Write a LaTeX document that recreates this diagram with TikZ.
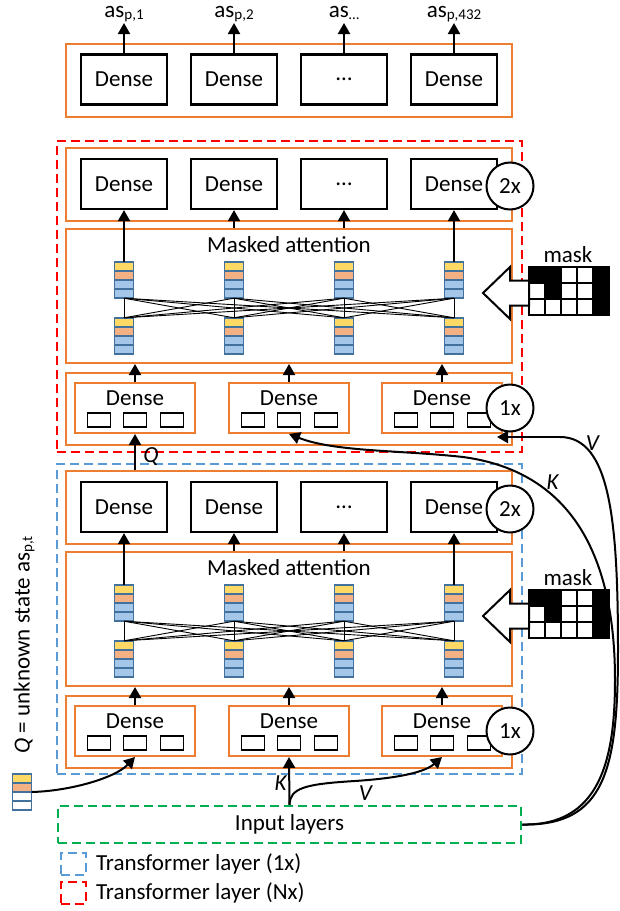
\documentclass[tikz,border=0pt]{standalone}
\usepackage{fontspec}
\setmainfont{Carlito}
\usetikzlibrary{arrows.meta}
\definecolor{orng}{HTML}{ED7D31}
\definecolor{rdash}{HTML}{FF0000}
\definecolor{bdash}{HTML}{5B9BD5}
\definecolor{gdash}{HTML}{00B050}
\definecolor{vborder}{HTML}{41719C}
\definecolor{vyel}{HTML}{FFD966}
\definecolor{vsal}{HTML}{F4B183}
\definecolor{vblu}{HTML}{A4C6E8}
\newcommand\lowsub[1]{\raisebox{-2.5pt}{\fontsize{15}{15}\selectfont #1}}
\newcommand\mkvec[4]{% name, x, ytop, colours
  \foreach \cc [count=\kk from 0] in {#4}{
    \node[vcell, fill=\cc] at (#2, #3+4.5+9*\kk) {};
  }
  \node[inner sep=0pt, minimum width=19pt, minimum height=36pt] (#1) at (#2,#3+18) {};
}
\begin{document}
\begin{tikzpicture}[x=1pt,y=-1pt,
  fnt/.style={font=\fontsize{23}{27}\selectfont},
  dbox/.style={draw, line width=2.2pt, fill=white, minimum width=86pt, minimum height=50pt, inner sep=0pt, fnt},
  ebox/.style={draw=orng, line width=2pt, fill=white, minimum width=120pt, minimum height=50pt, inner sep=0pt},
  obox/.style={draw=orng, line width=2pt, inner sep=0pt, minimum width=446pt},
  srect/.style={draw, line width=1.4pt, fill=white, minimum width=23pt, minimum height=14pt, inner sep=0pt},
  vcell/.style={draw=vborder, line width=1.4pt, minimum width=19pt, minimum height=9pt, inner sep=0pt},
  mcell/.style={draw, line width=1.5pt, minimum size=16pt, inner sep=0pt},
  circ/.style={circle, draw, line width=2pt, fill=white, minimum size=47pt, inner sep=0pt, fnt},
  arr/.style={line width=2pt, -{Triangle[length=11pt,width=12pt]}},
  attl/.style={line width=0.9pt},
  dsh/.style={line width=2.5pt, dash pattern=on 9pt off 5pt},
  lbl/.style={fnt, inner sep=0pt}
]
\useasboundingbox (0,0) rectangle (619,911);

% dashed layer frames
\node[draw=rdash, dsh, minimum width=465pt, minimum height=311pt, inner sep=0pt] (rlayer) at (289.5,296.5) {};
\node[draw=bdash, dsh, minimum width=465pt, minimum height=310pt, inner sep=0pt] (blayer) at (289.5,619) {};
\node[draw=gdash, dsh, minimum width=463pt, minimum height=37pt, inner sep=0pt, fnt] (inp) at (289.5,824.5) {Input layers};

% output block
\node[obox, minimum height=73pt] (outb) at (289,80.5) {};
\foreach \i/\x/\t in {1/124/Dense,2/234/Dense,3/344/\ldots,4/454/Dense}{
  \node[dbox] (o\i) at (\x,79.5) {\t};
  \coordinate (t\i) at (\x,23);
  \draw[arr] (o\i.north) -- (t\i);
}
\node[fnt, anchor=base, inner sep=0pt] (lab1) at (124,17) {as\lowsub{p,1}};
\node[fnt, anchor=base, inner sep=0pt] (lab2) at (234,17) {as\lowsub{p,2}};
\node[fnt, anchor=base, inner sep=0pt] (lab3) at (344,17) {as\lowsub{\ldots}};
\node[fnt, anchor=base, inner sep=0pt] (lab4) at (454,17) {as\lowsub{p,432}};

% two transformer layers
\foreach \oy/\p in {0/r,323/b}{
  \node[obox, minimum height=73pt] (\p top) at (289,184.5+\oy) {};
  \node[obox, minimum height=134pt] (\p att) at (289,296+\oy) {};
  \node[obox, minimum height=72pt] (\p low) at (289,409+\oy) {};
  \foreach \i/\x/\t in {1/124/Dense,2/234/Dense,3/344/\ldots,4/454/Dense}{
    \node[dbox] (\p d\i) at (\x,184+\oy) {\t};
  }
  \node[fnt, anchor=base, inner sep=0pt] (\p attxt) at (289,252+\oy) {Masked attention};
  \foreach \i/\x in {1/124,2/234,3/344,4/454}{
    \mkvec{\p vt\i}{\x}{262+\oy}{vyel,vsal,vblu,vblu}
    \mkvec{\p vb\i}{\x}{318+\oy}{vyel,vsal,vblu,vblu}
  }
  \foreach \i in {1,...,4}{
    \foreach \j in {1,...,4}{
      \draw[attl] (\p vt\i.south) -- (\p vb\j.north);
    }
  }
  \draw[arr] (\p vt1.north) -- (\p d1.south);
  \draw[arr] (\p vt4.north) -- (\p d4.south);
  \draw[arr] (\p d2.south |- \p att.north) -- (\p d2.south);
  \draw[arr] (\p d3.south |- \p att.north) -- (\p d3.south);
  \foreach \i/\x in {1/135,2/289,3/442}{
    \node[ebox] (\p e\i) at (\x,408+\oy) {};
    \node[fnt, anchor=base, inner sep=0pt] (\p et\i) at (\x,405+\oy) {Dense};
    \node[srect] (\p s\i a) at (\x-36,420+\oy) {};
    \node[srect] (\p s\i b) at (\x,420+\oy) {};
    \node[srect] (\p s\i c) at (\x+37,420+\oy) {};
    \draw[arr] (\p e\i.north) -- (\p e\i.north |- \p att.south);
  }
  % mask
  \foreach \r/\row in {0/{black,black,white,white,black},1/{white,black,white,white,black},2/{white,white,white,white,black}}{
    \foreach \v [count=\c from 0] in \row {
      \node[mcell, fill=\v] (\p m\r\c) at (537+16*\c,275+16*\r+\oy) {};
    }
  }
  \node[fnt, anchor=base, inner sep=0pt] (\p mtxt) at (568,262+\oy) {mask};
  \draw[line width=2pt, fill=white, line join=miter] (483,293+\oy) -- (510,267+\oy) -- (510,280.5+\oy) -- (529,280.5+\oy) -- (529,305.5+\oy) -- (510,305.5+\oy) -- (510,319+\oy) -- cycle;
  \node[circ] (\p c2) at (510,186+\oy) {2x};
  \node[circ] (\p c1) at (510,408+\oy) {1x};
}

% Q between layers
\draw[arr] (re1.south |- btop.north) -- (re1.south);
\node[lbl] (qlab) at (151,457) {\textit{Q}};

% unknown state vector and text
\mkvec{qv}{22}{774}{vyel,vsal,white,white}
\node[fnt, rotate=90, inner sep=0pt] (qtxt) at (24,645) {\textit{Q} = unknown state as\lowsub{p,t}};
\draw[arr] (qv.east) .. controls (70,791) and (115,778) .. (be1.south);

% K and V from input to lower layer
\draw[arr] (inp.north) -- (be2.south);
\draw[arr] (inp.north) .. controls (290,788) and (305,784) .. (355,781) .. controls (400,778) and (425,772) .. (be3.south);
\node[lbl] (kl1) at (281,783) {\textit{K}};
\node[lbl] (vl1) at (366,793) {\textit{V}};

% K and V from input to upper layer
\coordinate (vtip) at (497,437);
\draw[line width=2pt] (inp.east) .. controls (600,826) and (615,760) .. (615,680) .. controls (615,540) and (560,470) .. (463,457);
\draw[arr] (463,457) .. controls (400,450) and (335,452) .. (re2.south);
\draw[line width=2pt] (inp.east) .. controls (605,826) and (618,770) .. (618,650) .. controls (618,520) and (610,437) .. (560,437);
\draw[arr] (560,437) -- (vtip);
\node[lbl] (kl2) at (553,482) {\textit{K}};
\node[lbl] (vl2) at (593,443) {\textit{V}};

% legend
\node[draw=bdash, dsh, minimum width=25pt, minimum height=22pt, inner sep=0pt] (lg1) at (73.5,864) {};
\node[fnt, anchor=west, inner sep=0pt] (lgt1) at (96,864) {Transformer layer (1x)};
\node[draw=rdash, dsh, minimum width=25pt, minimum height=22pt, inner sep=0pt] (lg2) at (73.5,893) {};
\node[fnt, anchor=west, inner sep=0pt] (lgt2) at (96,893) {Transformer layer (Nx)};
\end{tikzpicture}
\end{document}
